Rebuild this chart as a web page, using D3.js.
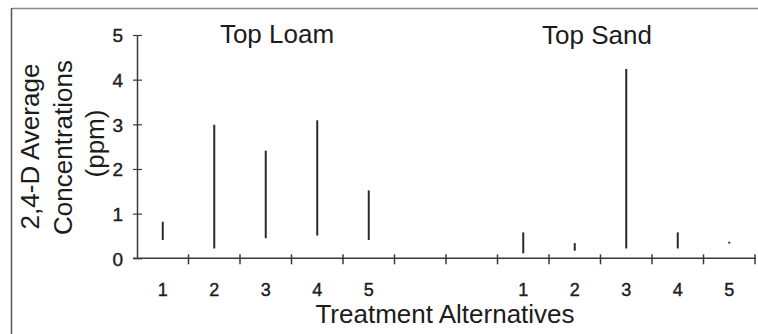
<!DOCTYPE html>
<html>
<head>
<meta charset="utf-8">
<script src="https://cdn.jsdelivr.net/npm/d3@7"></script>
<style>
  html, body { margin: 0; padding: 0; background: #fff; }
  svg { display: block; }
  text { font-family: "Liberation Sans", Arial, Helvetica, sans-serif; fill: #1c1c1c; }
</style>
</head>
<body>
<svg id="chart" width="758" height="334"></svg>
<script>
// Soil groups and treatment alternatives
const groups = ["Top Loam", "Top Sand"];
const treatments = ["1", "2", "3", "4", "5"];
// Empty slots separating the two soil groups on the category axis
const spacers = ["gapA", "gapB"];

// 2,4-D concentration range (ppm) for each treatment: low and high ends
const loamLow  = [0.41, 0.22, 0.45, 0.51, 0.41];
const loamHigh = [0.82, 2.99, 2.41, 3.09, 1.52];
const sandLow  = [0.11, 0.17, 0.22, 0.22, 0.33];
const sandHigh = [0.58, 0.34, 4.24, 0.58, 0.37];

// Value axis ticks
const yTicks = [0, 1, 2, 3, 4, 5];

const yTitle = ["2,4-D Average", "Concentrations", "(ppm)"];
const xTitle = "Treatment Alternatives";

// Build the slot list: loam 1..5, two empty slots, sand 1..5
const slots = [
  ...treatments.map(t => ({ key: groups[0] + "|" + t, label: t })),
  ...spacers.map(s => ({ key: s, label: "" })),
  ...treatments.map(t => ({ key: groups[1] + "|" + t, label: t }))
];
const ranges = [
  ...treatments.map((t, i) => ({ key: groups[0] + "|" + t, low: loamLow[i], high: loamHigh[i] })),
  ...treatments.map((t, i) => ({ key: groups[1] + "|" + t, low: sandLow[i], high: sandHigh[i] }))
];

const svg = d3.select("#chart");

// Outer frame (runs past the right and bottom edges)
svg.append("line").attr("x1", 11.5).attr("x2", 758).attr("y1", 8.5).attr("y2", 8.5)
  .attr("stroke", "#8a8a8a").attr("stroke-width", 1.5);
svg.append("line").attr("x1", 11.5).attr("x2", 11.5).attr("y1", 8).attr("y2", 334)
  .attr("stroke", "#555").attr("stroke-width", 1.5);

const x = d3.scaleBand().domain(slots.map(d => d.key)).range([137, 755]).padding(0);
const y = d3.scaleLinear().domain([0, 5]).range([258.3, 35]);

const axisColor = "#3a3a3a";

// Y axis
const yAxis = svg.append("g").attr("transform", "translate(137,0)")
  .call(d3.axisLeft(y).tickValues(yTicks).tickFormat(d3.format("d")).tickSizeInner(4).tickSizeOuter(0).tickPadding(10));
yAxis.select(".domain").attr("stroke", axisColor).attr("stroke-width", 1.5);
yAxis.selectAll(".tick line").attr("x1", 5).attr("stroke", axisColor).attr("stroke-width", 1.2);
yAxis.selectAll(".tick text").attr("font-size", 19).attr("font-family", null).attr("fill", "#1c1c1c")
  .attr("stroke", "#1c1c1c").attr("stroke-width", 0.4).attr("dy", "0.36em");

// X axis line
svg.append("line").attr("x1", 133).attr("x2", 756).attr("y1", y(0)).attr("y2", y(0))
  .attr("stroke", axisColor).attr("stroke-width", 1.5);

// Category boundary ticks crossing the axis
const bounds = slots.slice(1).map(d => x(d.key)).concat([x.range()[1]]);
svg.append("g").selectAll("line").data(bounds).join("line")
  .attr("x1", d => d).attr("x2", d => d)
  .attr("y1", y(0) - 4).attr("y2", y(0) + 6)
  .attr("stroke", axisColor).attr("stroke-width", 1.5);

// Category labels under each slot
const xAxis = svg.append("g").attr("transform", `translate(0,${y(0)})`)
  .call(d3.axisBottom(x).tickFormat(k => slots.find(s => s.key === k).label).tickSize(0).tickPadding(25));
xAxis.select(".domain").remove();
xAxis.selectAll(".tick text").attr("font-size", 18).attr("font-family", null).attr("fill", "#1c1c1c")
  .attr("stroke", "#1c1c1c").attr("stroke-width", 0.4);

// Concentration ranges as vertical lines
svg.append("g").selectAll("line").data(ranges).join("line")
  .attr("x1", d => x(d.key) + x.bandwidth() / 2)
  .attr("x2", d => x(d.key) + x.bandwidth() / 2)
  .attr("y1", d => y(d.low))
  .attr("y2", d => y(d.high))
  .attr("stroke", "#2a2a2a").attr("stroke-width", 2);

// Group headings
svg.append("text").attr("x", 277).attr("y", 43).attr("text-anchor", "middle")
  .attr("font-size", 26).text(groups[0]);
svg.append("text").attr("x", 597).attr("y", 44).attr("text-anchor", "middle")
  .attr("font-size", 26).text(groups[1]);

// Axis titles
svg.append("text").attr("x", 445).attr("y", 322.5).attr("text-anchor", "middle")
  .attr("font-size", 26).text(xTitle);

const yLineX = [38.5, 71.5, 104];
const yLineMid = [146.5, 147.5, 143.5];
yTitle.forEach((t, i) => {
  svg.append("text")
    .attr("transform", `translate(${yLineX[i]},${yLineMid[i]}) rotate(-90)`)
    .attr("text-anchor", "middle")
    .attr("font-size", 26)
    .text(t);
});
</script>
</body>
</html>
